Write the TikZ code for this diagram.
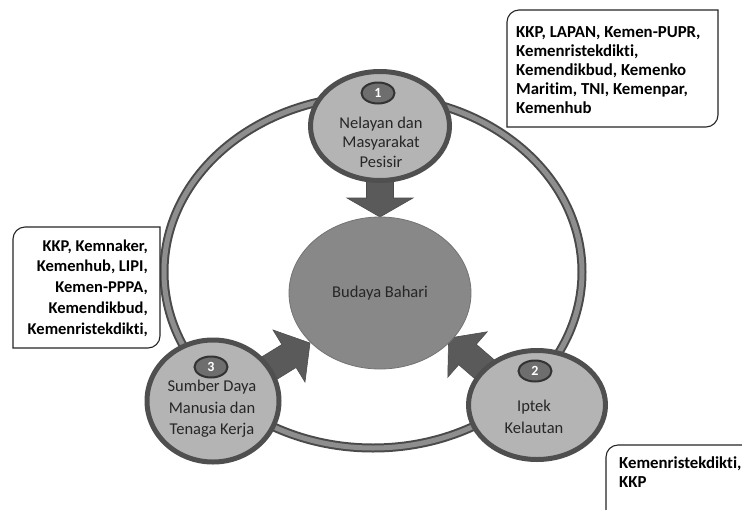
\documentclass[tikz,border=0pt]{standalone}
\usepackage{fontspec}
\setmainfont[Ligatures={NoCommon}]{Carlito}
\usetikzlibrary{shapes.geometric}
\definecolor{ringdark}{HTML}{4A4A4A}
\definecolor{ringmid}{HTML}{8E8E8E}
\definecolor{nodefill}{HTML}{B4B4B4}
\definecolor{nodeedge}{HTML}{4F4F4F}
\definecolor{centerfill}{HTML}{888888}
\definecolor{arrowfill}{HTML}{5A5A5A}
\definecolor{numfill}{HTML}{6E6E6E}
\definecolor{txtdark}{HTML}{262626}
\begin{document}
\begin{tikzpicture}[x=1pt,y=-1pt,
  topic/.style={ellipse, draw=nodeedge, line width=5pt, fill=nodefill, inner sep=0pt},
  numbadge/.style={ellipse, draw=black!80, line width=2pt, fill=numfill, inner sep=0pt,
    minimum width=33pt, minimum height=21pt, text=white, font=\fontsize{14}{16}\selectfont\bfseries},
  topictext/.style={align=center, text=txtdark, inner sep=0pt},
  blockarrow/.style={fill=arrowfill, draw=black!70, line width=0.6pt},
  infobox/.style={draw=black!85, line width=1.1pt, fill=white},
  infotext/.style={inner sep=0pt, text=black, font=\fontsize{16.8}{19}\selectfont\bfseries}
]
\useasboundingbox (0,0) rectangle (742,509);
\fill[white] (0,0) rectangle (742,509);
\clip (0,0) rectangle (742,509);

% outer ring
\draw[ringdark, line width=9pt] (373,272) ellipse [x radius=209pt, y radius=176pt];
\draw[ringmid, line width=5pt] (373,272) ellipse [x radius=209pt, y radius=176pt];

% block arrows
\draw[blockarrow] (366.5,170) -- (393.5,170) -- (393.5,198) -- (413,198) -- (380,217) -- (347,198) -- (366.5,198) -- cycle;
\draw[blockarrow] (243.6,368.1) -- (281.9,344.5) -- (273,330) -- (310,343) -- (305,382) -- (296.1,367.5) -- (257.8,391.1) -- cycle;
\draw[blockarrow] (514.1,377.1) -- (476.3,344.3) -- (487.2,331.8) -- (448.6,338.1) -- (447.8,377.2) -- (458.7,364.7) -- (496.5,397.5) -- cycle;

% centre
\node[ellipse, fill=centerfill, draw=black!55, line width=0.8pt, minimum width=182pt, minimum height=152pt, inner sep=0pt,
  text=txtdark, font=\fontsize{16.5}{19}\selectfont] (c) at (380,293) {Budaya Bahari};

% topic nodes
\node[topic, minimum width=139pt, minimum height=109pt] (n1) at (380,126) {};
\node[topic, minimum width=137pt, minimum height=109pt] (n2) at (537,405) {};
\node[topic, minimum width=132pt, minimum height=122pt] (n3) at (213,401) {};

\node[numbadge] (k1) at (378,93) {1};
\node[numbadge] (k2) at (535,371) {2};
\node[numbadge] (k3) at (211,367) {3};

\node[topictext, font=\fontsize{16.5}{19.5}\selectfont] (t1) at (381,142) {Nelayan dan\\Masyarakat\\Pesisir};
\node[topictext, font=\fontsize{16.5}{22}\selectfont] (t2) at (534,417) {Iptek\\Kelautan};
\node[topictext, font=\fontsize{16.5}{21.5}\selectfont] (t3) at (212,409) {Sumber Daya\\Manusia dan\\Tenaga Kerja};

% info boxes
\draw[infobox] (507,127) -- (507,22) .. controls (507,15.4) and (512.4,10) .. (519,10)
  -- (718,10) -- (718,115) .. controls (718,121.6) and (712.6,127) .. (706,127) -- cycle;
\node[infotext, anchor=west, align=left] (b1) at (516,70) {KKP, LAPAN, Kemen-PUPR,\\Kemenristekdikti,\\Kemendikbud, Kemenko\\Maritim, TNI, Kemenpar,\\Kemenhub};

\draw[infobox] (13,348) -- (13,239) .. controls (13,232.4) and (18.4,227) .. (25,227)
  -- (160,227) -- (160,336) .. controls (160,342.6) and (154.6,348) .. (148,348) -- cycle;
\node[infotext, anchor=east, align=right, font=\fontsize{16.5}{20.7}\selectfont\bfseries] (b2) at (148,288) {KKP, Kemnaker,\\Kemenhub, LIPI,\\Kemen-PPPA,\\Kemendikbud,\\Kemenristekdikti,};

\draw[infobox] (606,530) -- (606,457) .. controls (606,450.4) and (611.4,445) .. (618,445)
  -- (760,445) -- (760,530) -- cycle;
\node[infotext, anchor=west, align=left] (b3) at (619,472.5) {Kemenristekdikti,\\KKP};
\end{tikzpicture}
\end{document}
